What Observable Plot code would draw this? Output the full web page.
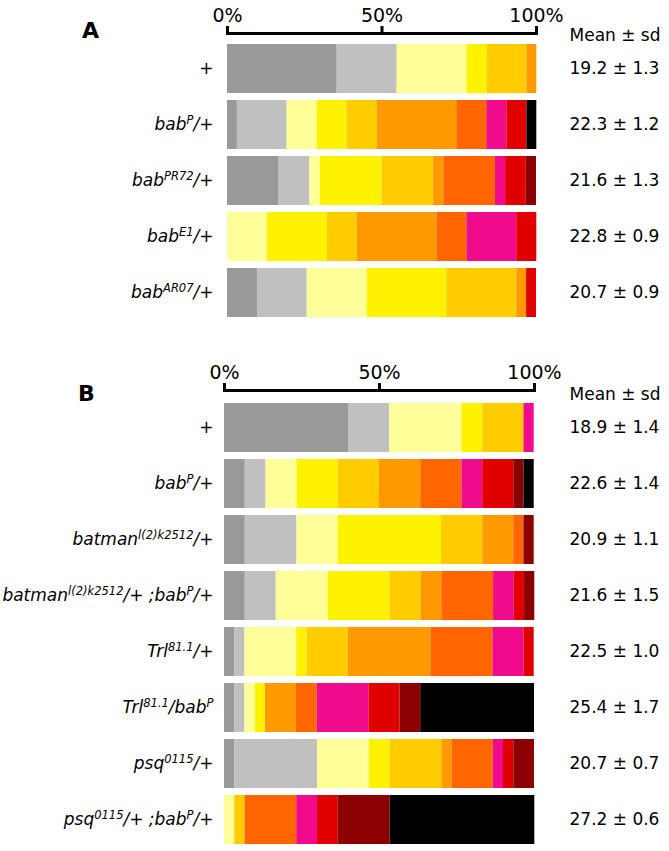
<!DOCTYPE html>
<html>
<head>
<meta charset="utf-8">
<script src="https://cdn.jsdelivr.net/npm/d3@7"></script>
<script src="https://cdn.jsdelivr.net/npm/@observablehq/plot@0.6"></script>
<style>
  html, body { margin: 0; padding: 0; background: #fff; overflow: hidden; }
  #chart svg { display: block; }
</style>
</head>
<body>
<div id="chart"></div>
<script>
// ---- classes (colour bins, left to right) ----
const classNames = ["c1","c2","c3","c4","c5","c6","c7","c8","c9","c10","c11"];
const classColors = ["#999999","#c0c0c0","#ffff99","#fff200","#ffcc00","#ff9900","#ff6600","#f00a8c","#e00000","#8b0000","#000000"];

// ---- Panel A ----
const genotypesA = ["+", "bab^{P}/+", "bab^{PR72}/+", "bab^{E1}/+", "bab^{AR07}/+"];
const meanA = [19.2, 22.3, 21.6, 22.8, 20.7];
const sdA   = [1.3, 1.2, 1.3, 0.9, 0.9];
const percentA = [
  [35.5, 19.4, 22.6, 6.5, 12.9, 3.2, 0, 0, 0, 0, 0],
  [3.2, 16.1, 9.7, 9.7, 9.7, 25.8, 9.7, 6.5, 6.5, 0, 3.2],
  [16.7, 10.0, 3.3, 20.0, 16.7, 3.3, 16.7, 3.3, 6.7, 3.3, 0],
  [0, 0, 12.9, 19.4, 9.7, 25.8, 9.7, 16.1, 6.5, 0, 0],
  [9.7, 16.1, 19.4, 25.8, 22.6, 3.2, 0, 0, 3.2, 0, 0]
];

// ---- Panel B ----
const genotypesB = ["+", "bab^{P}/+", "batman^{l(2)k2512}/+", "batman^{l(2)k2512}/+ ;bab^{P}/+",
                    "Trl^{81.1}/+", "Trl^{81.1}/bab^{P}", "psq^{0115}/+", "psq^{0115}/+ ;bab^{P}/+"];
const meanB = [18.9, 22.6, 20.9, 21.6, 22.5, 25.4, 20.7, 27.2];
const sdB   = [1.4, 1.4, 1.1, 1.5, 1.0, 1.7, 0.7, 0.6];
const percentB = [
  [40.0, 13.3, 23.3, 6.7, 13.3, 0, 0, 3.3, 0, 0, 0],
  [6.7, 6.7, 10.0, 13.3, 13.3, 13.3, 13.3, 6.7, 10.0, 3.3, 3.3],
  [6.7, 16.7, 13.3, 33.3, 13.3, 10.0, 3.3, 0, 0, 3.3, 0],
  [6.7, 10.0, 16.7, 20.0, 10.0, 6.7, 16.7, 6.7, 3.3, 3.3, 0],
  [3.3, 3.3, 16.7, 3.3, 13.3, 26.7, 20.0, 10.0, 3.3, 0, 0],
  [3.3, 3.3, 3.3, 3.3, 0, 10.0, 6.7, 16.7, 10.0, 6.7, 36.7],
  [3.3, 26.7, 16.7, 6.7, 16.7, 3.3, 13.3, 3.3, 3.3, 6.7, 0],
  [0, 0, 3.3, 0, 3.3, 0, 16.7, 6.7, 6.7, 16.7, 46.7]
];

const tickValues = [0, 50, 100];
const header = "Mean ± sd";

function supLabels(svg) {
  svg.querySelectorAll('g[aria-label="y-axis tick label"] text').forEach(t => {
    const s = t.textContent;
    const parts = s.split(/(\^\{[^}]*\})/).filter(p => p.length);
    while (t.firstChild) t.removeChild(t.firstChild);
    let prevSup = false;
    parts.forEach(p => {
      const ts = document.createElementNS("http://www.w3.org/2000/svg", "tspan");
      if (p.startsWith("^{")) {
        ts.textContent = p.slice(2, -1);
        ts.setAttribute("font-size", "11.5");
        ts.setAttribute("dy", "-6");
        prevSup = true;
      } else {
        ts.textContent = p;
        if (prevSup) ts.setAttribute("dy", "6");
        prevSup = false;
      }
      t.appendChild(ts);
    });
  });
}

function panel(o) {
  const rows = [];
  o.genotypes.forEach((g, i) => o.percents[i].forEach((v, j) => {
    if (v > 0) rows.push({genotype: g, cls: classNames[j], value: v});
  }));
  const labels = o.genotypes.map((g, i) => ({genotype: g, text: `${o.means[i].toFixed(1)} ± ${o.sds[i].toFixed(1)}`}));
  const svg = Plot.plot({
    width: 669,
    height: o.height,
    marginTop: o.marginTop,
    marginLeft: o.marginLeft,
    marginRight: o.marginRight,
    marginBottom: 0,
    style: {fontFamily: "DejaVu Sans, sans-serif", background: "white", color: "black"},
    x: {domain: [0, 100]},
    y: {domain: o.genotypes, paddingInner: o.paddingInner, paddingOuter: o.paddingOuter},
    color: {domain: classNames, range: classColors},
    marks: [
      Plot.barX(rows, {x: "value", y: "genotype", fill: "cls"}),
      Plot.frame({anchor: "top", stroke: "black", strokeWidth: 3}),
      Plot.axisX({anchor: "top", ticks: tickValues, tickFormat: d => d + "%", tickSize: 8, tickPadding: 4, strokeWidth: 3, fontSize: 19, label: null}),
      Plot.axisY({tickSize: 0, tickPadding: o.tickPadding, fontSize: 17, fontStyle: "italic", label: null}),
      Plot.text(labels, {y: "genotype", text: "text", frameAnchor: "right", textAnchor: "start", dx: o.textDx, fontSize: 17}),
      Plot.text([header], {text: d => d, frameAnchor: "top-right", textAnchor: "start", lineAnchor: "bottom", dx: o.textDx, dy: o.headerDy, fontSize: 17}),
      Plot.text([o.letter], {text: d => d, frameAnchor: "top-left", textAnchor: "middle", lineAnchor: "bottom", dx: o.letterDx, dy: o.letterDy, fontSize: 22, fontWeight: "bold"})
    ]
  });
  supLabels(svg);
  return svg;
}

const chart = document.getElementById("chart");
chart.appendChild(panel({
  genotypes: genotypesA, means: meanA, sds: sdA, percents: percentA,
  height: 327, marginTop: 33, marginLeft: 227, marginRight: 133,
  paddingInner: 0.125, paddingOuter: 0.18, tickPadding: 14,
  textDx: 33, headerDy: 7, letter: "A", letterDx: -137, letterDy: 4
}));
chart.appendChild(panel({
  genotypes: genotypesB, means: meanB, sds: sdB, percents: percentB,
  height: 530, marginTop: 63, marginLeft: 224, marginRight: 135,
  paddingInner: 0.123, paddingOuter: 0.176, tickPadding: 11,
  textDx: 35, headerDy: 9, letter: "B", letterDx: -138, letterDy: 10
}));
</script>
</body>
</html>
